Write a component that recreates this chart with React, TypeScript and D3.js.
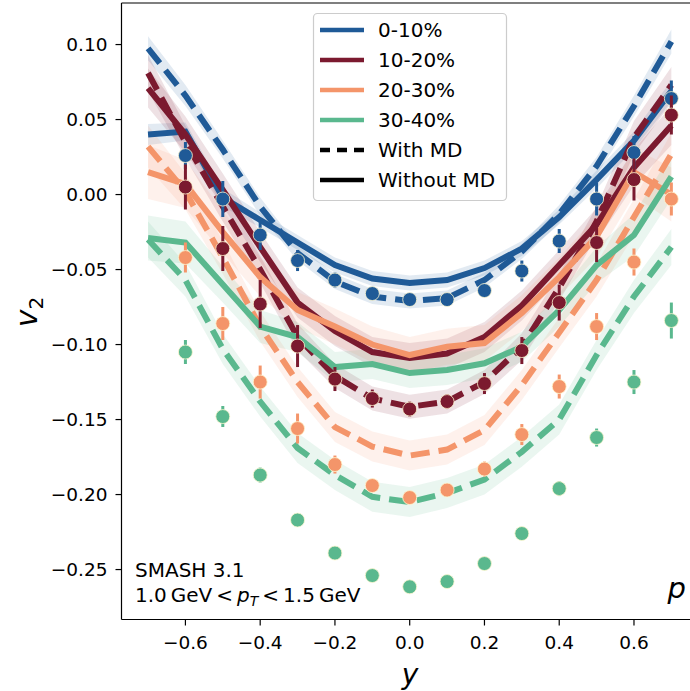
import React from "react";
import * as d3 from "d3";

// ---------- data ----------
const rapidity = [-0.7, -0.6, -0.5, -0.4, -0.3, -0.2, -0.1, 0, 0.1, 0.2, 0.3, 0.4, 0.5, 0.6, 0.7];

const c0_10_withMD = [0.0975, 0.066, 0.03, -0.008, -0.039, -0.058, -0.068, -0.071, -0.069, -0.057, -0.038, -0.013, 0.019, 0.059, 0.102];
const c0_10_withoutMD = [0.04, 0.042, -0.002, -0.017, -0.032, -0.047, -0.056, -0.059, -0.057, -0.049, -0.036, -0.015, 0.01, 0.036, 0.069];
const c10_20_withMD = [0.081, 0.035, -0.008, -0.05, -0.095, -0.121, -0.136, -0.1415, -0.138, -0.125, -0.1015, -0.062, -0.018, 0.038, 0.073];
const c10_20_withoutMD = [0.071, 0.04, 0.003, -0.035, -0.072, -0.091, -0.105, -0.109, -0.106, -0.095, -0.074, -0.047, -0.02, 0.018, 0.046];
const c20_30_withMD = [0.032, 0.002, -0.042, -0.088, -0.125, -0.155, -0.168, -0.174, -0.17, -0.157, -0.127, -0.092, -0.057, -0.015, 0.027];
const c20_30_withoutMD = [0.015, 0.007, -0.025, -0.055, -0.077, -0.088, -0.1, -0.107, -0.1015, -0.099, -0.079, -0.055, -0.028, 0.015, 0.0];
const c30_40_withMD = [-0.03, -0.057, -0.103, -0.138, -0.169, -0.187, -0.2015, -0.205, -0.199, -0.19, -0.1715, -0.15, -0.107, -0.068, -0.035];
const c30_40_withoutMD = [-0.029, -0.032, -0.06, -0.088, -0.095, -0.115, -0.113, -0.119, -0.117, -0.1125, -0.1015, -0.077, -0.047, -0.027, 0.012];

// band half-widths (model uncertainty)
const u0_10_withMD = [0.008, 0.007, 0.006, 0.006, 0.005, 0.005, 0.005, 0.005, 0.005, 0.005, 0.005, 0.006, 0.006, 0.007, 0.008];
const u0_10_withoutMD = [0.007, 0.006, 0.006, 0.005, 0.005, 0.005, 0.005, 0.005, 0.005, 0.005, 0.005, 0.005, 0.006, 0.006, 0.007];
const u10_20_withMD = [0.012, 0.011, 0.01, 0.009, 0.009, 0.008, 0.008, 0.008, 0.008, 0.008, 0.009, 0.009, 0.01, 0.011, 0.012];
const u10_20_withoutMD = [0.013, 0.012, 0.011, 0.01, 0.01, 0.01, 0.01, 0.01, 0.01, 0.01, 0.01, 0.01, 0.011, 0.012, 0.013];
const u20_30_withMD = [0.014, 0.012, 0.011, 0.01, 0.01, 0.01, 0.01, 0.01, 0.01, 0.01, 0.01, 0.01, 0.011, 0.012, 0.014];
const u20_30_withoutMD = [0.018, 0.016, 0.014, 0.013, 0.012, 0.012, 0.012, 0.012, 0.012, 0.012, 0.012, 0.013, 0.014, 0.016, 0.018];
const u30_40_withMD = [0.012, 0.011, 0.01, 0.01, 0.01, 0.01, 0.01, 0.01, 0.01, 0.01, 0.01, 0.01, 0.01, 0.011, 0.012];
const u30_40_withoutMD = [0.015, 0.014, 0.012, 0.011, 0.01, 0.01, 0.01, 0.01, 0.01, 0.01, 0.01, 0.011, 0.012, 0.014, 0.015];

// measured points
const dataRapidity = [-0.6, -0.5, -0.4, -0.3, -0.2, -0.1, 0, 0.1, 0.2, 0.3, 0.4, 0.5, 0.6, 0.7];
const d0_10 = [0.026, -0.003, -0.027, -0.044, -0.057, -0.066, -0.07, -0.07, -0.064, -0.051, -0.031, -0.003, 0.028, 0.064];
const e0_10 = [0.009, 0.012, 0.01, 0.007, 0.005, 0.004, 0.003, 0.003, 0.004, 0.007, 0.008, 0.011, 0.011, 0.012];
const d10_20 = [0.005, -0.036, -0.073, -0.101, -0.123, -0.136, -0.143, -0.138, -0.126, -0.104, -0.072, -0.032, 0.01, 0.053];
const e10_20 = [0.015, 0.015, 0.016, 0.014, 0.008, 0.006, 0.005, 0.005, 0.007, 0.009, 0.012, 0.013, 0.014, 0.013];
const d20_30 = [-0.042, -0.086, -0.125, -0.156, -0.18, -0.194, -0.202, -0.197, -0.183, -0.16, -0.128, -0.088, -0.045, -0.003];
const e20_30 = [0.01, 0.011, 0.011, 0.01, 0.006, 0.004, 0.003, 0.003, 0.005, 0.007, 0.008, 0.009, 0.009, 0.011];
const d30_40 = [-0.105, -0.148, -0.187, -0.217, -0.239, -0.254, -0.2615, -0.258, -0.246, -0.226, -0.196, -0.162, -0.125, -0.084];
const e30_40 = [0.008, 0.007, 0.005, 0.004, 0.003, 0.002, 0.002, 0.002, 0.003, 0.004, 0.005, 0.006, 0.008, 0.012];

const centralities = ["0-10%", "10-20%", "20-30%", "30-40%"];
const colors = ["#1f5a97", "#7b1a2f", "#f4956a", "#5ab88e"];
const xTicks = [-0.6, -0.4, -0.2, 0.0, 0.2, 0.4, 0.6];
const yTicks = [0.1, 0.05, 0.0, -0.05, -0.1, -0.15, -0.2, -0.25];

const withMD = [c0_10_withMD, c10_20_withMD, c20_30_withMD, c30_40_withMD];
const withoutMD = [c0_10_withoutMD, c10_20_withoutMD, c20_30_withoutMD, c30_40_withoutMD];
const uWith = [u0_10_withMD, u10_20_withMD, u20_30_withMD, u30_40_withMD];
const uWithout = [u0_10_withoutMD, u10_20_withoutMD, u20_30_withoutMD, u30_40_withoutMD];
const dVals = [d0_10, d10_20, d20_30, d30_40];
const dErrs = [e0_10, e10_20, e20_30, e30_40];

// ---------- layout ----------
const W = 690;
const H = 691;
const L = 121.5, R = 697.9, T = 3, B = 619.5;
const FONT = "DejaVu Sans, sans-serif";

export default function App() {
  const x = d3.scaleLinear().domain([-0.771, 0.771]).range([L, R]);
  const y = d3.scaleLinear().domain([-0.2833, 0.1277]).range([B, T]);

  const line = d3.line<number>().x((_, i) => x(rapidity[i])).y((d) => y(d));
  const area = (vals: number[], unc: number[]) =>
    d3
      .area<number>()
      .x((_, i) => x(rapidity[i]))
      .y0((d, i) => y(d - unc[i]))
      .y1((d, i) => y(d + unc[i]))(vals) as string;

  const fmtY = (v: number) => {
    const s = Math.abs(v).toFixed(2);
    return v < -1e-9 ? "\u2212" + s : s;
  };
  const fmtX = (v: number) => {
    const s = Math.abs(v).toFixed(1);
    return v < -1e-9 ? "\u2212" + s : s;
  };

  return (
    <svg
      width={W}
      height={H}
      style={{ position: "absolute", left: 0, top: 0, background: "#fff", overflow: "hidden" }}
      fontFamily={FONT}
    >
      <defs>
        <clipPath id="plotclip">
          <rect x={L} y={T} width={R - L} height={B - T} />
        </clipPath>
      </defs>
      <rect x={0} y={0} width={W} height={H} fill="#fff" />
      <g clipPath="url(#plotclip)">
        {/* bands */}
        {centralities.map((c, k) => (
          <g key={"band" + c}>
            <path d={area(withMD[k], uWith[k])} fill={colors[k]} fillOpacity={0.13} />
            <path d={area(withoutMD[k], uWithout[k])} fill={colors[k]} fillOpacity={0.13} />
          </g>
        ))}
        {/* lines */}
        {centralities.map((c, k) => (
          <g key={"line" + c} fill="none" stroke={colors[k]} strokeWidth={6}>
            <path d={line(withMD[k]) as string} strokeDasharray="19,9" />
            <path d={line(withoutMD[k]) as string} />
          </g>
        ))}
        {/* points */}
        {centralities.map((c, k) => (
          <g key={"pts" + c}>
            {dataRapidity.map((r, i) => (
              <g key={i}>
                <line
                  x1={x(r)}
                  x2={x(r)}
                  y1={y(dVals[k][i] - dErrs[k][i])}
                  y2={y(dVals[k][i] + dErrs[k][i])}
                  stroke={colors[k]}
                  strokeWidth={3}
                />
                <circle
                  cx={x(r)}
                  cy={y(dVals[k][i])}
                  r={7}
                  fill={colors[k]}
                  stroke="#fff8d0"
                  strokeWidth={0.8}
                />
              </g>
            ))}
          </g>
        ))}
      </g>

      {/* spines */}
      <g stroke="#000" strokeWidth={1.2} fill="none">
        <line x1={L} x2={L} y1={T} y2={B} />
        <line x1={L} x2={R} y1={B} y2={B} />
        <line x1={L} x2={R} y1={T} y2={T} />
      </g>

      {/* y ticks */}
      {yTicks.map((t) => (
        <g key={"yt" + t}>
          <line x1={L - 6} x2={L} y1={y(t)} y2={y(t)} stroke="#000" strokeWidth={1.2} />
          <text x={L - 14} y={y(t) + 6.5} textAnchor="end" fontSize={18.5} fill="#000">
            {fmtY(t)}
          </text>
        </g>
      ))}
      {/* x ticks */}
      {xTicks.map((t) => (
        <g key={"xt" + t}>
          <line x1={x(t)} x2={x(t)} y1={B} y2={B + 6} stroke="#000" strokeWidth={1.2} />
          <text x={x(t)} y={B + 29} textAnchor="middle" fontSize={18.5} fill="#000">
            {fmtX(t)}
          </text>
        </g>
      ))}

      {/* axis labels */}
      <text x={410} y={684} textAnchor="middle" fontSize={28} fontStyle="italic" fill="#000">
        y
      </text>
      <g transform="translate(37,312) rotate(-90)">
        <text x={0} y={0} textAnchor="middle" fontSize={30} fill="#000">
          <tspan fontStyle="italic">v</tspan>
          <tspan fontSize={20} dy={6}>2</tspan>
        </text>
      </g>

      {/* annotations */}
      <text x={135} y={577} fontSize={20} fill="#000">SMASH 3.1</text>
      <text x={135} y={602} fontSize={20} fill="#000">
        1.0{"\u2009"}GeV{"\u2009"}&lt;{"\u2009"}
        <tspan fontStyle="italic">p</tspan>
        <tspan fontStyle="italic" fontSize={14} dy={4}>T</tspan>
        <tspan dy={-4}>{"\u2009"}&lt;{"\u2009"}1.5{"\u2009"}GeV</tspan>
      </text>
      <text x={686} y={598} textAnchor="end" fontSize={29} fontStyle="italic" fill="#000">
        p
      </text>

      {/* legend */}
      <g>
        <rect x={313.5} y={13.5} width={193} height={187} rx={4} fill="#fff" fillOpacity={0.85} stroke="#cccccc" strokeWidth={1.2} />
        {centralities.map((c, k) => (
          <g key={"lg" + c}>
            <line x1={320} x2={364} y1={30 + 30 * k} y2={30 + 30 * k} stroke={colors[k]} strokeWidth={4.5} />
            <text x={378} y={30 + 30 * k + 7} fontSize={20} fill="#000">
              {c}
            </text>
          </g>
        ))}
        <line x1={320} x2={364} y1={150} y2={150} stroke="#000" strokeWidth={4.5} strokeDasharray="10,7" />
        <text x={378} y={157} fontSize={20} fill="#000">With MD</text>
        <line x1={320} x2={364} y1={180} y2={180} stroke="#000" strokeWidth={4.5} />
        <text x={378} y={187} fontSize={20} fill="#000">Without MD</text>
      </g>
    </svg>
  );
}
